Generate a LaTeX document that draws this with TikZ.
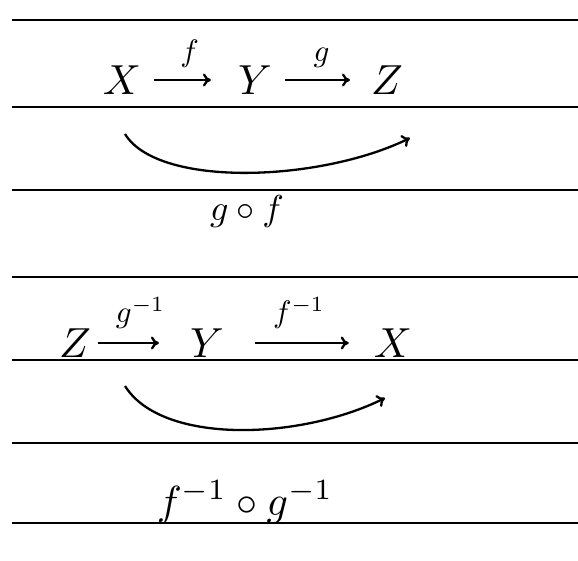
\documentclass[tikz,border=0pt]{standalone}
\usepackage{graphicx}
\usetikzlibrary{arrows.meta}
\newcommand{\objtxt}[1]{\scalebox{4.2}{$#1$}}
\newcommand{\lbltxt}[1]{\scalebox{3.1}{$#1$}}
\newcommand{\comptxt}[1]{\scalebox{3.6}{$#1$}}
\newcommand{\bigcomptxt}[1]{\scalebox{4.2}{$#1$}}
\begin{document}
\begin{tikzpicture}[x=1pt,y=-1pt,
  rule/.style={line width=2.4pt},
  obj/.style={inner sep=1pt},
  lbl/.style={inner sep=1pt},
  comp/.style={inner sep=1pt},
  arr/.style={line width=2.3pt,-{To[length=8pt,width=13pt]}},
  curv/.style={line width=2.3pt,-{To[length=8pt,width=13pt]}}]
\useasboundingbox (0,0) rectangle (578,561);
\fill[white] (0,0) rectangle (578,561);
% ruled lines
\foreach \yy in {20,107,190,277,360,443,523}
  \draw[rule] (12,\yy) -- (578,\yy);
% row 1
\node[obj] (X1) at (122,80) {\objtxt{X}};
\node[obj] (Y1) at (255,80) {\objtxt{Y}};
\node[obj] (Z1) at (387,80) {\objtxt{Z}};
\draw[arr, shorten <=12pt, shorten >=26pt] (X1) -- node[lbl, above=10pt] {\lbltxt{f}} (Y1);
\draw[arr, shorten <=12pt, shorten >=20pt] (Y1) -- node[lbl, above=10pt] {\lbltxt{g}} (Z1);
\coordinate (a1) at (125,134);
\coordinate (b1) at (410,138);
\draw[curv] (a1) .. controls (158,188) and (320,182) .. (b1);
\node[comp] (gf) at (247,212) {\comptxt{g\circ f}};
% row 2
\node[obj] (Z2) at (75,343) {\objtxt{Z}};
\node[obj] (Y2) at (207,343) {\objtxt{Y}};
\node[obj] (X2) at (393,343) {\objtxt{X}};
\draw[arr, shorten <=6pt, shorten >=30pt] (Z2) -- node[lbl, above=12pt] {\lbltxt{g^{-1}}} (Y2);
\draw[arr, shorten <=30pt, shorten >=24pt] (Y2) -- node[lbl, above=12pt] {\lbltxt{f^{-1}}} (X2);
\coordinate (a2) at (125,386);
\coordinate (b2) at (385,398);
\draw[curv] (a2) .. controls (162,445) and (300,440) .. (b2);
\node[comp] (fg) at (245,502) {\bigcomptxt{f^{-1}\circ g^{-1}}};
\end{tikzpicture}
\end{document}
